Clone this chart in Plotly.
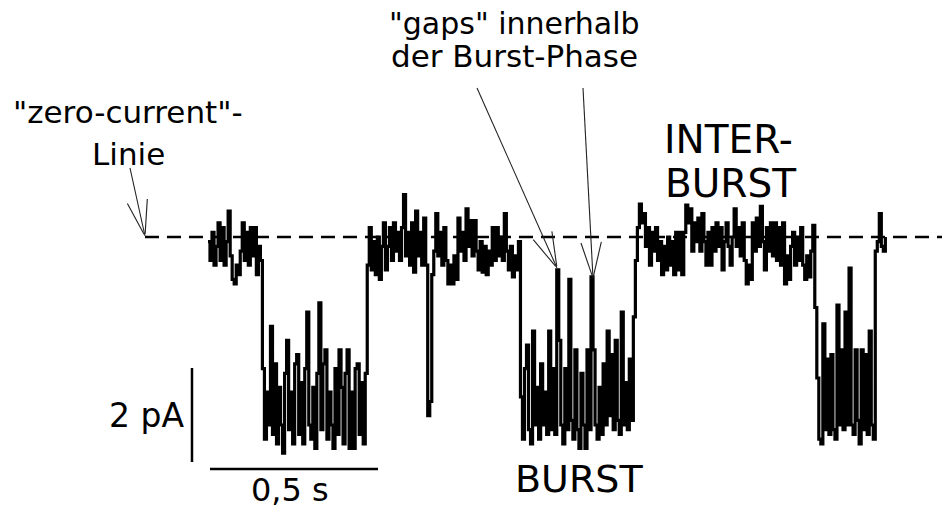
import numpy as np
import plotly.graph_objects as go

W, H = 942, 511

# Single-channel current trace, sampled every 6 ms (values in pA)
T_START = -0.006
DT = 0.006

open_a = [-0.1, -0.5, 0.1, -0.6, -0.2, 0.3, -0.5, 0.2, -0.6, -0.1,
          0.55, -0.4, -0.9, -1.0, -0.6, -0.8, -0.3, 0.3, -0.5, 0.1,
          -0.6, 0.2, -0.4, 0.2, -0.8, -0.2, -0.5]
burst_1 = [-2.8, -4.3, -3.3, -4.0, -1.9, -4.2, -2.7, -4.4, -3.2, -4.0,
           -4.6, -2.9, -2.2, -4.1, -3.3, -4.4, -2.7, -2.5, -4.2, -3.1,
           -4.4, -2.8, -1.6, -4.0, -4.3, -3.2, -4.5, -2.9, -1.4, -4.1,
           -2.7, -2.4, -4.3, -3.3, -4.0, -4.5, -2.8, -4.2, -2.4, -3.2,
           -4.4, -2.9, -2.4, -4.5, -3.3, -4.5, -2.8, -2.7, -4.2, -3.1,
           -4.4, -2.9]
open_b = [-0.6, 0.2, -0.7, -0.1, -0.8, 0.0, -0.9, -0.2, 0.3, -0.7,
          -0.2, 0.2, -0.5, 0.3, -0.3, 0.1, -0.5, 0.2, 0.9, -0.4,
          0.1, -0.6, 0.3, -0.75, 0.55, -0.4, 0.1, -0.6, 0.4, -0.6]
brief_closure = [-3.8, -3.5, -0.8]
open_c = [-0.3, 0.5, -0.4, 0.1, -0.6, 0.2, -0.5, -1.0, -0.6, -1.0,
          -0.4, -0.9, 0.4, -0.3, 0.1, -0.5, 0.6, -0.2, 0.35, -0.4,
          0.35, -0.3, -0.7, -0.1, -0.75, -0.2, -0.8, -0.3, -0.6, 0.2,
          -0.5, 0.2, -0.4, 0.0, -0.5, 0.5, -0.3, -0.7, -0.2, -0.85,
          -0.4, -0.7, -0.1]
burst_2 = [-3.4, -4.3, -2.8, -2.3, -4.1, -4.4, -2.0, -4.0, -3.2, -4.3,
           -2.7, -4.0, -3.3, -4.2, -2.0, -4.1, -2.8, -4.2, -0.7, -2.2,
           -4.0, -4.4, -2.8, -4.1, -0.9, -3.9, -4.3, -2.4, -4.1, -4.5,
           -2.9, -4.0, -4.5, -2.4, -4.1, -0.85, -2.4, -4.0, -4.3, -3.2,
           -4.2, -2.7, -4.0, -2.0, -3.8, -2.5, -4.1, -2.2, -3.9, -4.2,
           -1.6, -4.0, -3.1, -4.1, -2.6, -3.9, -1.7]
open_d = [-0.5, 0.2, 0.7, 0.3, 0.5, -0.2, 0.2, -0.6, 0.1, -0.3,
          0.2, -0.5, -0.1, -0.8, -0.2, -0.7, 0.0, -0.6, -0.1, -0.8,
          0.1, -0.7, 0.1, -0.8, 0.1, 0.68, 0.3, 0.6, -0.3, 0.3,
          -0.1, 0.4, -0.3, 0.5, -0.1, -0.6, 0.1, -0.6, 0.2, -0.3,
          0.3, -0.2, 0.2, -0.7, -0.1, 0.3, -0.2, -0.6, 0.0, 0.6,
          -0.2, 0.2, -0.4, 0.3, -0.5, -1.0, -0.6, -0.9, 0.3, -0.3,
          0.4, -0.2, 0.65, -0.1, -0.7, 0.2, -0.3, 0.3, -0.4, 0.3,
          -0.5, 0.2, -0.6, 0.3, -1.0, -0.4, -0.9, -0.2, 0.1, -0.6,
          0.0, -0.5, 0.2, -0.6, -0.9, -0.4, -0.85, -0.3, 0.25]
burst_3 = [-1.5, -3.0, -4.3, -4.4, -1.85, -4.1, -2.6, -4.2, -2.5, -4.1,
           -4.3, -1.45, -4.0, -2.4, -4.1, -1.6, -4.0, -0.66, -4.0, -4.2,
           -2.4, -3.9, -4.4, -2.4, -4.1, -2.5, -4.2, -2.0, -4.0, -4.3]
open_e = [-0.3, -0.1, 0.5, -0.2, -0.3, 0.0]

current = (open_a + burst_1 + open_b + brief_closure + open_c
           + burst_2 + open_d + burst_3 + open_e)
time = T_START + DT * np.arange(len(current))

# Scale bars
SCALE_T = 0.5      # s
SCALE_I = 2.0      # pA
T_LABEL = "0,5 s"
I_LABEL = "2 pA"

X_RANGE = [-0.625, 2.1786]
Y_RANGE = [-5.8298, 5.0426]


def px(x):
    return x / W


def py(y):
    return 1 - y / H


fig = go.Figure()
fig.add_trace(go.Scatter(
    x=time, y=current, mode="lines", line_shape="hv",
    line=dict(color="black", width=3.2), hoverinfo="skip",
))

shapes = []
# zero-current line
shapes.append(dict(type="line", xref="x", yref="y", x0=-0.1935, x1=X_RANGE[1],
                   y0=0, y1=0, layer="below",
                   line=dict(color="black", width=2.4, dash="14px,8px")))
# time scale bar
hb_y = -4.936
shapes.append(dict(type="line", xref="x", yref="y", x0=0, x1=SCALE_T,
                   y0=hb_y, y1=hb_y, line=dict(color="black", width=2.5)))
# current scale bar
vb_x = -0.0536
vb_top = -2.787
shapes.append(dict(type="line", xref="x", yref="y", x0=vb_x, x1=vb_x,
                   y0=vb_top, y1=vb_top - SCALE_I, line=dict(color="black", width=2.5)))


def open_arrow(start, tip, length=37, angle_deg=16):
    sx, sy = start
    tx, ty = tip
    dx, dy = sx - tx, sy - ty
    n = np.hypot(dx, dy)
    ux, uy = dx / n, dy / n
    out = [dict(type="line", xref="paper", yref="paper",
                x0=px(sx), y0=py(sy), x1=px(tx), y1=py(ty),
                line=dict(color="#222", width=1.1))]
    for s in (1, -1):
        a = np.radians(angle_deg) * s
        bx = ux * np.cos(a) - uy * np.sin(a)
        by = ux * np.sin(a) + uy * np.cos(a)
        out.append(dict(type="line", xref="paper", yref="paper",
                        x0=px(tx + 2 * bx), y0=py(ty + 2 * by),
                        x1=px(tx + length * bx), y1=py(ty + length * by),
                        line=dict(color="#222", width=1.1)))
    return out


shapes += open_arrow((130, 168), (145, 236))
shapes += open_arrow((477, 88), (557, 268))
shapes += open_arrow((583, 88), (593, 278))

FONT = "DejaVu Sans"


def label(text, x, y, size, xanchor="center", yanchor="middle"):
    return dict(text=text, x=px(x), y=py(y), xref="paper", yref="paper",
                xanchor=xanchor, yanchor=yanchor, showarrow=False,
                font=dict(family=FONT, size=size, color="black"))


annotations = [
    label('"gaps" innerhalb', 514, 23, 30),
    label("der Burst-Phase", 514, 56, 31),
    label('"zero-current"-', 128, 112, 31),
    label("Linie", 128, 154, 31),
    label("INTER-", 662, 139, 39, xanchor="left"),
    label("BURST", 663, 183, 39, xanchor="left"),
    label("BURST", 579, 479, 38),
    label(I_LABEL, 186, 415, 33, xanchor="right"),
    label(T_LABEL, 290, 511, 32, yanchor="bottom"),
]

fig.update_layout(
    width=W, height=H, autosize=False,
    margin=dict(l=0, r=0, t=0, b=0),
    paper_bgcolor="white", plot_bgcolor="white",
    showlegend=False,
    xaxis=dict(visible=False, range=X_RANGE, fixedrange=True),
    yaxis=dict(visible=False, range=Y_RANGE, fixedrange=True),
    shapes=shapes, annotations=annotations,
)

fig.write_html("out.html")
